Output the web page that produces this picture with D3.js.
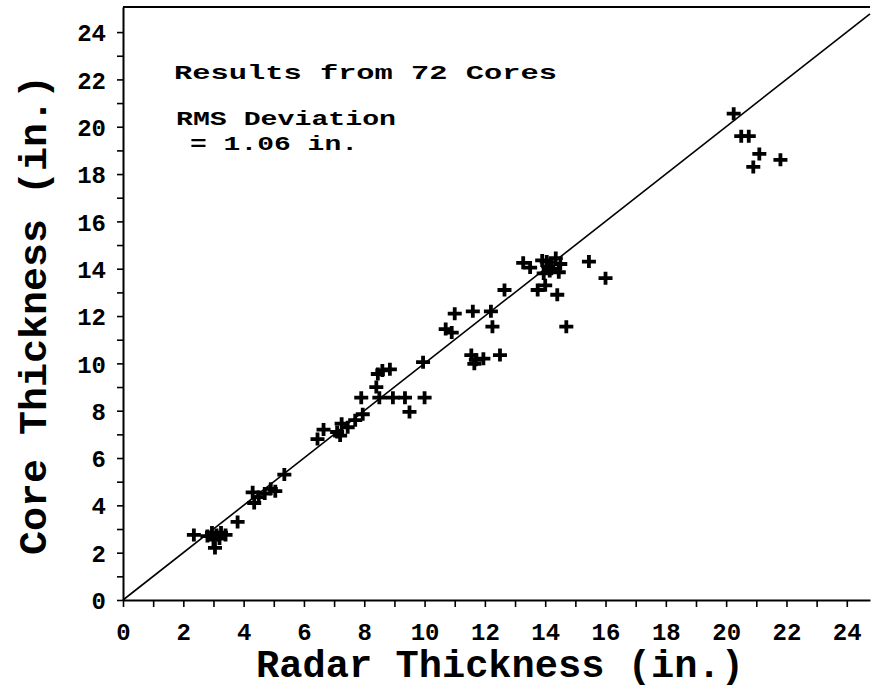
<!DOCTYPE html>
<html>
<head>
<meta charset="utf-8">
<script src="https://cdn.jsdelivr.net/npm/d3@7"></script>
<style>
  body { margin: 0; background: #fff; }
  svg { display: block; }
  text { font-family: "Courier New", "Liberation Mono", monospace; font-weight: bold; fill: #000; }
</style>
</head>
<body>
<svg width="872" height="697"></svg>
<script>
// radar vs core thickness (in.)
var radarX = [
  2.35, 2.8, 2.95, 3.0, 3.1, 3.25, 3.4, 3.2, 3.05, 3.8,
  4.3, 4.35, 4.5, 4.7, 4.9, 5.05, 5.35,
  6.45, 6.65, 7.1, 7.2, 7.25, 7.45, 7.7, 7.95,
  7.9, 8.5, 8.95, 9.35, 10.0, 9.5, 8.4, 8.45, 8.6, 8.85, 9.95,
  11.0, 11.6, 12.2, 10.7, 10.9, 12.25,
  11.55, 11.7, 11.65, 11.95, 12.5,
  12.65, 13.27,
  13.9, 14.1, 14.35, 14.5, 14.15, 13.95, 14.45, 14.05, 13.5, 14.2,
  13.75, 14.0, 14.4,
  15.45, 16.0, 14.7,
  20.25, 20.5, 20.75, 21.1, 21.8, 20.9
];
var coreY = [
  2.75, 2.7, 2.85, 2.55, 2.75, 2.85, 2.75, 2.6, 2.2, 3.3,
  4.55, 4.1, 4.35, 4.5, 4.7, 4.6, 5.3,
  6.8, 7.2, 7.1, 6.95, 7.45, 7.3, 7.6, 7.85,
  8.55, 8.55, 8.55, 8.55, 8.55, 7.95, 9.0, 9.55, 9.7, 9.75, 10.05,
  12.1, 12.2, 12.2, 11.45, 11.3, 11.55,
  10.35, 10.15, 9.98, 10.2, 10.35,
  13.1, 14.25,
  14.35, 14.1, 14.45, 14.2, 13.9, 13.8, 13.85, 14.3, 14.05, 14.0,
  13.1, 13.3, 12.9,
  14.3, 13.6, 11.55,
  20.55, 19.6, 19.6, 18.85, 18.6, 18.3
];
var tickVals = d3.range(0, 25, 1);
var xTitle = "Radar Thickness (in.)";
var yTitle = "Core Thickness (in.)";
var notes = ["Results from 72 Cores", "RMS Deviation", "= 1.06 in."];

var svg = d3.select("svg");

// plot box edges (the right side runs off the picture)
var plotL = 123, plotR = 870, plotT = 7, plotB = 600;

var x = d3.scaleLinear().domain([0, 24.77]).range([plotL, plotR]);
var y = d3.scaleLinear().domain([0, 25.06]).range([plotB, plotT]);

function evenOnly(d) { return d % 2 === 0 ? d : ""; }

// x axis
var xAxis = svg.append("g")
    .attr("transform", "translate(0," + plotB + ")")
    .call(d3.axisBottom(x).tickValues(tickVals).tickSize(7).tickSizeOuter(0).tickFormat(evenOnly));
xAxis.select(".domain").attr("stroke-width", 2);
xAxis.selectAll(".tick line").attr("stroke-width", 1.6);
xAxis.selectAll("text")
    .attr("y", 40).attr("dy", null)
    .style("font-size", "24px");

// y axis
var yAxis = svg.append("g")
    .attr("transform", "translate(" + plotL + ",0)")
    .call(d3.axisLeft(y).tickValues(tickVals).tickSize(6).tickSizeOuter(0).tickPadding(11).tickFormat(evenOnly));
yAxis.select(".domain").attr("stroke-width", 2);
yAxis.selectAll(".tick line").attr("stroke-width", 1.6);
yAxis.selectAll("text")
    .attr("dy", "0.36em")
    .style("font-size", "24px");

// top frame line
svg.append("line")
    .attr("x1", plotL).attr("x2", plotR)
    .attr("y1", plotT).attr("y2", plotT)
    .attr("stroke", "#000").attr("stroke-width", 2);

// 1:1 line
var lineMax = Math.min(x.domain()[1], y.domain()[1]);
svg.append("line")
    .attr("x1", x(0)).attr("y1", y(0))
    .attr("x2", x(lineMax)).attr("y2", y(lineMax))
    .attr("stroke", "#000").attr("stroke-width", 1.6);

// plus markers
var pts = radarX.map(function (d, i) { return { rx: d, cy: coreY[i] }; });
svg.append("g")
    .selectAll("path")
    .data(pts)
    .enter().append("path")
    .attr("transform", function (d) { return "translate(" + x(d.rx) + "," + y(d.cy) + ")"; })
    .attr("d", "M-7,0H7M0,-6.5V6.5")
    .attr("stroke", "#000")
    .attr("stroke-width", 3.8)
    .attr("fill", "none");

// annotation
var noteX = [174, 176, 190];
var noteY = [79, 125, 150];
var noteW = [383, 220, 168];
svg.append("g")
    .selectAll("text")
    .data(notes)
    .enter().append("text")
    .attr("x", function (d, i) { return noteX[i]; })
    .attr("y", function (d, i) { return noteY[i]; })
    .attr("textLength", function (d, i) { return noteW[i]; })
    .attr("lengthAdjust", "spacingAndGlyphs")
    .style("font-size", "21px")
    .text(function (d) { return d; });

// axis titles
svg.append("text")
    .attr("x", 500).attr("y", 677)
    .attr("text-anchor", "middle")
    .attr("textLength", 488)
    .attr("lengthAdjust", "spacingAndGlyphs")
    .style("font-size", "38px")
    .text(xTitle);

svg.append("text")
    .attr("transform", "translate(46,315) rotate(-90)")
    .attr("text-anchor", "middle")
    .attr("textLength", 480)
    .attr("lengthAdjust", "spacingAndGlyphs")
    .style("font-size", "38px")
    .text(yTitle);
</script>
</body>
</html>
